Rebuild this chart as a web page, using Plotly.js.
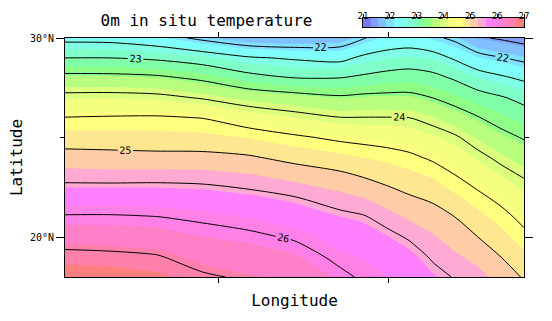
<!DOCTYPE html>
<html>
<head>
<meta charset="utf-8">
<script src="https://cdn.plot.ly/plotly-3.0.1.min.js"></script>
<style>html,body{margin:0;padding:0;background:#fff}#chart{width:552px;height:321px}</style>
</head>
<body>
<div id="chart"></div>
<script>
// ---- data ----
const lon = [122, 127.4, 132.8, 138.2, 143.6, 149, 154.4, 157.1, 159.8, 162.5, 165.2, 167.9, 170.6, 173.3, 176];
const lat = [30, 29, 28, 27, 26, 25, 24, 23, 22, 21, 20, 19, 18];
const temp = [
  [22.37,22.35,22.20,21.90,21.65,21.60,21.70,21.97,22.20,22.25,22.10,21.90,21.55,21.45,21.33],
  [23.00,23.00,22.93,22.78,22.55,22.45,22.38,22.59,22.69,22.75,22.69,22.44,22.16,22.02,21.89],
  [23.64,23.63,23.58,23.42,23.15,23.00,23.00,23.08,23.16,23.20,23.12,22.95,22.72,22.57,22.42],
  [24.12,24.13,24.10,23.97,23.78,23.67,23.56,23.60,23.61,23.61,23.50,23.34,23.17,23.04,22.88],
  [24.51,24.53,24.54,24.49,24.29,24.14,24.01,24.01,24.01,24.00,23.88,23.71,23.52,23.34,23.20],
  [24.83,24.82,24.81,24.79,24.70,24.56,24.43,24.39,24.35,24.30,24.18,24.05,23.83,23.63,23.47],
  [25.13,25.11,25.09,25.09,25.04,24.90,24.78,24.71,24.65,24.57,24.45,24.29,24.10,23.91,23.73],
  [25.42,25.41,25.42,25.41,25.34,25.22,25.10,25.00,24.90,24.81,24.71,24.53,24.35,24.16,23.99],
  [25.72,25.73,25.72,25.68,25.61,25.51,25.36,25.28,25.15,25.03,24.94,24.76,24.58,24.40,24.20],
  [26.04,26.04,26.01,25.94,25.85,25.73,25.58,25.53,25.40,25.25,25.15,25.00,24.79,24.62,24.40],
  [26.32,26.31,26.27,26.15,26.08,25.96,25.75,25.69,25.59,25.47,25.32,25.17,25.00,24.81,24.59],
  [26.61,26.58,26.53,26.35,26.30,26.18,25.91,25.84,25.73,25.64,25.47,25.33,25.20,25.00,24.78],
  [26.90,26.87,26.78,26.55,26.45,26.38,26.08,25.95,25.87,25.78,25.60,25.48,25.38,25.17,24.97]
];
const colorbarTicks = [21, 22, 23, 24, 25, 26, 27];
const latTicks = [20, 30];
const latTickText = ['20°N', '30°N'];
const lonTicks = [140, 160];
const palette = [
  '#7878f0','#80a0f8','#80c0ff','#80e0ff','#80ffff','#80ffe6','#80ffc8',
  '#80ffa8','#90ff88','#b8ff80','#dcff80','#f4ff80','#ffff80','#ffe690',
  '#ffcca8','#ffaad2','#ff80ff','#ff80e6','#ff80c8','#ff80aa','#ff8080'
];

// ---- styling / construction ----
const zMin = 21, zMax = 27, nBins = palette.length;
const step = (zMax - zMin) / nBins;
const colorscale = [];
palette.forEach((c, i) => { colorscale.push([i / nBins, c]); colorscale.push([(i + 1) / nBins, c]); });
const edges = palette.map((c, i) => zMin + i * step).concat([zMax]);
const mids = palette.map((c, i) => zMin + (i + 0.5) * step);
const FONT = 'DejaVu Sans Mono';

const fill = {
  type: 'contour', x: lon, y: lat, z: temp,
  colorscale: colorscale, zmin: zMin, zmax: zMax + 0.0001, showscale: false,
  contours: {start: zMin, end: zMax, size: step, coloring: 'fill', showlines: false},
  line: {width: 0, smoothing: 0}, hoverinfo: 'skip'
};
const halfLines = {
  type: 'contour', x: lon, y: lat, z: temp, showscale: false,
  contours: {start: 21.5, end: 26.5, size: 1, coloring: 'none'},
  line: {color: '#000', width: 1, smoothing: 0.8}, hoverinfo: 'skip'
};
const intLines = {
  type: 'contour', x: lon, y: lat, z: temp, showscale: false,
  contours: {start: 22, end: 26, size: 1, coloring: 'none', showlabels: true,
             labelfont: {family: FONT, size: 10, color: '#000'}},
  line: {color: '#000', width: 1, smoothing: 0.8}, hoverinfo: 'skip'
};
const bar = {
  type: 'heatmap', x: edges, y: [0, 1], z: [mids], xaxis: 'x2', yaxis: 'y2',
  colorscale: colorscale, zmin: zMin, zmax: zMax, showscale: false, hoverinfo: 'skip'
};

const plotTop = 38, plotBottom = 277, marginT = 10, H = 321;
const plotH = H - marginT - 44;
const yDomTop = (plotBottom - plotTop) / plotH;
const cbTop = (plotBottom - 18) / plotH, cbBot = (plotBottom - 27) / plotH;

const layout = {
  width: 552, height: 321,
  margin: {l: 65, r: 28, t: marginT, b: 44},
  paper_bgcolor: '#fff', plot_bgcolor: '#fff',
  showlegend: false,
  font: {family: FONT, color: '#000'},
  title: {text: '0m in situ temperature', font: {family: FONT, size: 16, color: '#000'},
          xref: 'container', yref: 'container', x: 206.5 / 552, xanchor: 'center',
          y: 1 - 20.5 / 321, yanchor: 'middle'},
  xaxis: {domain: [0, 1], range: [122, 176], tickvals: lonTicks, showticklabels: false,
          ticks: 'outside', ticklen: 5, tickcolor: '#000', showline: true, linecolor: '#000',
          linewidth: 1, mirror: 'ticks', showgrid: false, zeroline: false,
          title: {text: 'Longitude', font: {family: FONT, size: 16, color: '#000'}, standoff: 12}},
  yaxis: {domain: [0, yDomTop], range: [18, 30], tickvals: latTicks, ticktext: latTickText,
          ticks: 'outside', ticklen: 8, tickcolor: '#000', showline: true, linecolor: '#000',
          linewidth: 1, mirror: 'ticks', showgrid: false, zeroline: false,
          tickfont: {family: FONT, size: 10, color: '#000'},
          minor: {tickvals: [25], ticks: 'outside', ticklen: 4, tickcolor: '#000', showgrid: false},
          title: {text: 'Latitude', font: {family: FONT, size: 16, color: '#000'}, standoff: 3}},
  xaxis2: {domain: [(363 - 65) / 459, 1], anchor: 'y2', range: [zMin, zMax], tickvals: colorbarTicks,
           side: 'top', ticks: 'outside', ticklen: 3, tickcolor: '#000', showline: true,
           linecolor: '#000', mirror: true, showgrid: false, zeroline: false, ticklabelstandoff: -9,
           tickfont: {family: FONT, size: 9, color: '#000'}},
  yaxis2: {domain: [cbBot, cbTop], anchor: 'x2', range: [0, 1], showticklabels: false, ticks: '',
           showline: true, linecolor: '#000', mirror: true, showgrid: false, zeroline: false}
};

Plotly.newPlot('chart', [fill, halfLines, intLines, bar], layout, {staticPlot: true});
</script>
</body>
</html>
